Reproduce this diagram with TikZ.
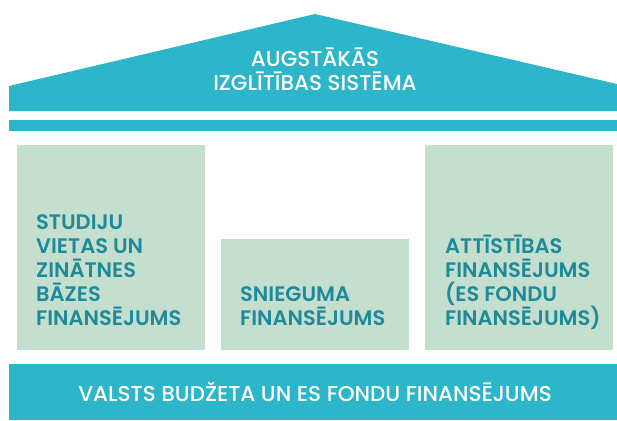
\documentclass[tikz,border=0pt]{standalone}
\usepackage{fontspec}
\setmainfont{Poppins}
\newfontfamily\medfont{Poppins Medium}
\newfontfamily\semifont{Poppins SemiBold}
\definecolor{tealband}{HTML}{2DB5C9}
\definecolor{sage}{HTML}{C4DFCE}
\definecolor{darkteal}{HTML}{1E8B9B}
\begin{document}
\begin{tikzpicture}[x=1pt,y=-1pt,
  panel/.style={fill=sage, draw=none, inner sep=0pt, anchor=north west},
  band/.style={fill=tealband, draw=none, inner sep=0pt, anchor=north west},
  boxtext/.style={text=darkteal, inner sep=0pt, align=left, anchor=base west,
    font={\semifont\fontsize{21}{24}\selectfont}},
  whitetext/.style={text=white, inner sep=0pt, align=center,
    font={\medfont\fontsize{21.5}{24}\selectfont}}]
\useasboundingbox (0,0) rectangle (617,420);
% roof
\fill[tealband] (9,111) -- (9,86) -- (315,14) -- (617,84) -- (617,111) -- cycle;
\node[whitetext, anchor=base] (roof) at (315,90) {AUGSTĀKĀS\\IZGLĪTĪBAS SISTĒMA};
% beam
\node[band, minimum width=608, minimum height=11] (beam) at (9,120) {};
% pillars
\node[panel, minimum width=188, minimum height=205] (left) at (17,145) {};
\node[panel, minimum width=188, minimum height=111] (mid) at (221,239) {};
\node[panel, minimum width=188, minimum height=205] (right) at (425,145) {};
\node[boxtext] (lefttxt) at (36,325) {STUDIJU\\VIETAS UN\\ZINĀTNES\\BĀZES\\FINANSĒJUMS};
\node[boxtext] (midtxt) at (240,325) {SNIEGUMA\\FINANSĒJUMS};
\node[boxtext] (righttxt) at (445,325) {ATTĪSTĪBAS\\FINANSĒJUMS\\(ES FONDU\\FINANSĒJUMS)};
% base
\node[band, minimum width=608, minimum height=56] (base) at (9,364) {};
\node[whitetext, anchor=base] (basetxt) at (315,401) {VALSTS BUDŽETA UN ES FONDU FINANSĒJUMS};
\end{tikzpicture}
\end{document}
